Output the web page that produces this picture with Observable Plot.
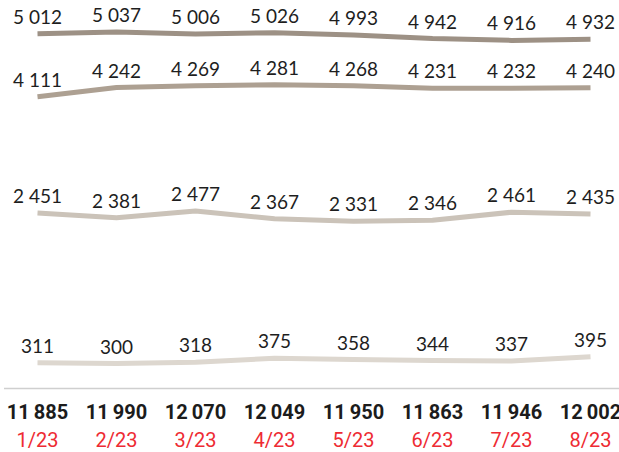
<!DOCTYPE html>
<html>
<head>
<meta charset="utf-8">
<script src="https://cdn.jsdelivr.net/npm/d3@7"></script>
<script src="https://cdn.jsdelivr.net/npm/@observablehq/plot@0.6"></script>
<style>
  html, body { margin: 0; padding: 0; background: #fff; }
  #chart svg { display: block; }
</style>
</head>
<body>
<div id="chart"></div>
<script>
const months = ["1/23", "2/23", "3/23", "4/23", "5/23", "6/23", "7/23", "8/23"];
const series1 = [5012, 5037, 5006, 5026, 4993, 4942, 4916, 4932];
const series2 = [4111, 4242, 4269, 4281, 4268, 4231, 4232, 4240];
const series3 = [2451, 2381, 2477, 2367, 2331, 2346, 2461, 2435];
const series4 = [311, 300, 318, 375, 358, 344, 337, 395];
const totals = [11885, 11990, 12070, 12049, 11950, 11863, 11946, 12002];
const seriesNames = ["s1", "s2", "s3", "s4"];
const colors = ["#9d9185", "#ada092", "#cbc3b9", "#ddd7cf"];

const allSeries = [series1, series2, series3, series4];
const rows = [];
allSeries.forEach((vals, si) => {
  vals.forEach((v, i) => rows.push({series: seriesNames[si], month: months[i], value: v}));
});
const totalRows = months.map((m, i) => ({month: m, total: totals[i]}));

const fmt = (v, sep) => {
  const s = String(v);
  return s.length > 3 ? s.slice(0, s.length - 3) + sep + s.slice(-3) : s;
};

const chart = Plot.plot({
  width: 619,
  height: 452,
  marginTop: 6,
  marginBottom: 68,
  marginLeft: 4,
  marginRight: 0,
  x: {type: "point", domain: months, padding: 0, insetLeft: 31, insetRight: 27, axis: null},
  y: {domain: [0, 5400], axis: null},
  color: {domain: seriesNames, range: colors},
  marks: [
    Plot.ruleY([0], {stroke: "#cfcfcf", strokeWidth: 1.5, dy: 4}),
    Plot.line(rows, {x: "month", y: "value", z: "series", stroke: "series", strokeWidth: 5, strokeLinecap: "butt"}),
    Plot.text(rows, {x: "month", y: "value", text: d => fmt(d.value, " "), dy: -16, fill: "#1e1e1e",
      fontFamily: "Lato", fontSize: 19}),
    Plot.text(totalRows, {x: "month", frameAnchor: "bottom", text: d => fmt(d.total, "\u2009"), dy: 34,
      fill: "#1c1c1c", fontFamily: "Roboto", fontWeight: 700, fontSize: 20}),
    Plot.text(totalRows, {x: "month", frameAnchor: "bottom", text: "month", dy: 62,
      fill: "#ee2b33", fontFamily: "Roboto", fontSize: 20, letterSpacing: 0.7})
  ]
});
document.getElementById("chart").appendChild(chart);
</script>
</body>
</html>
